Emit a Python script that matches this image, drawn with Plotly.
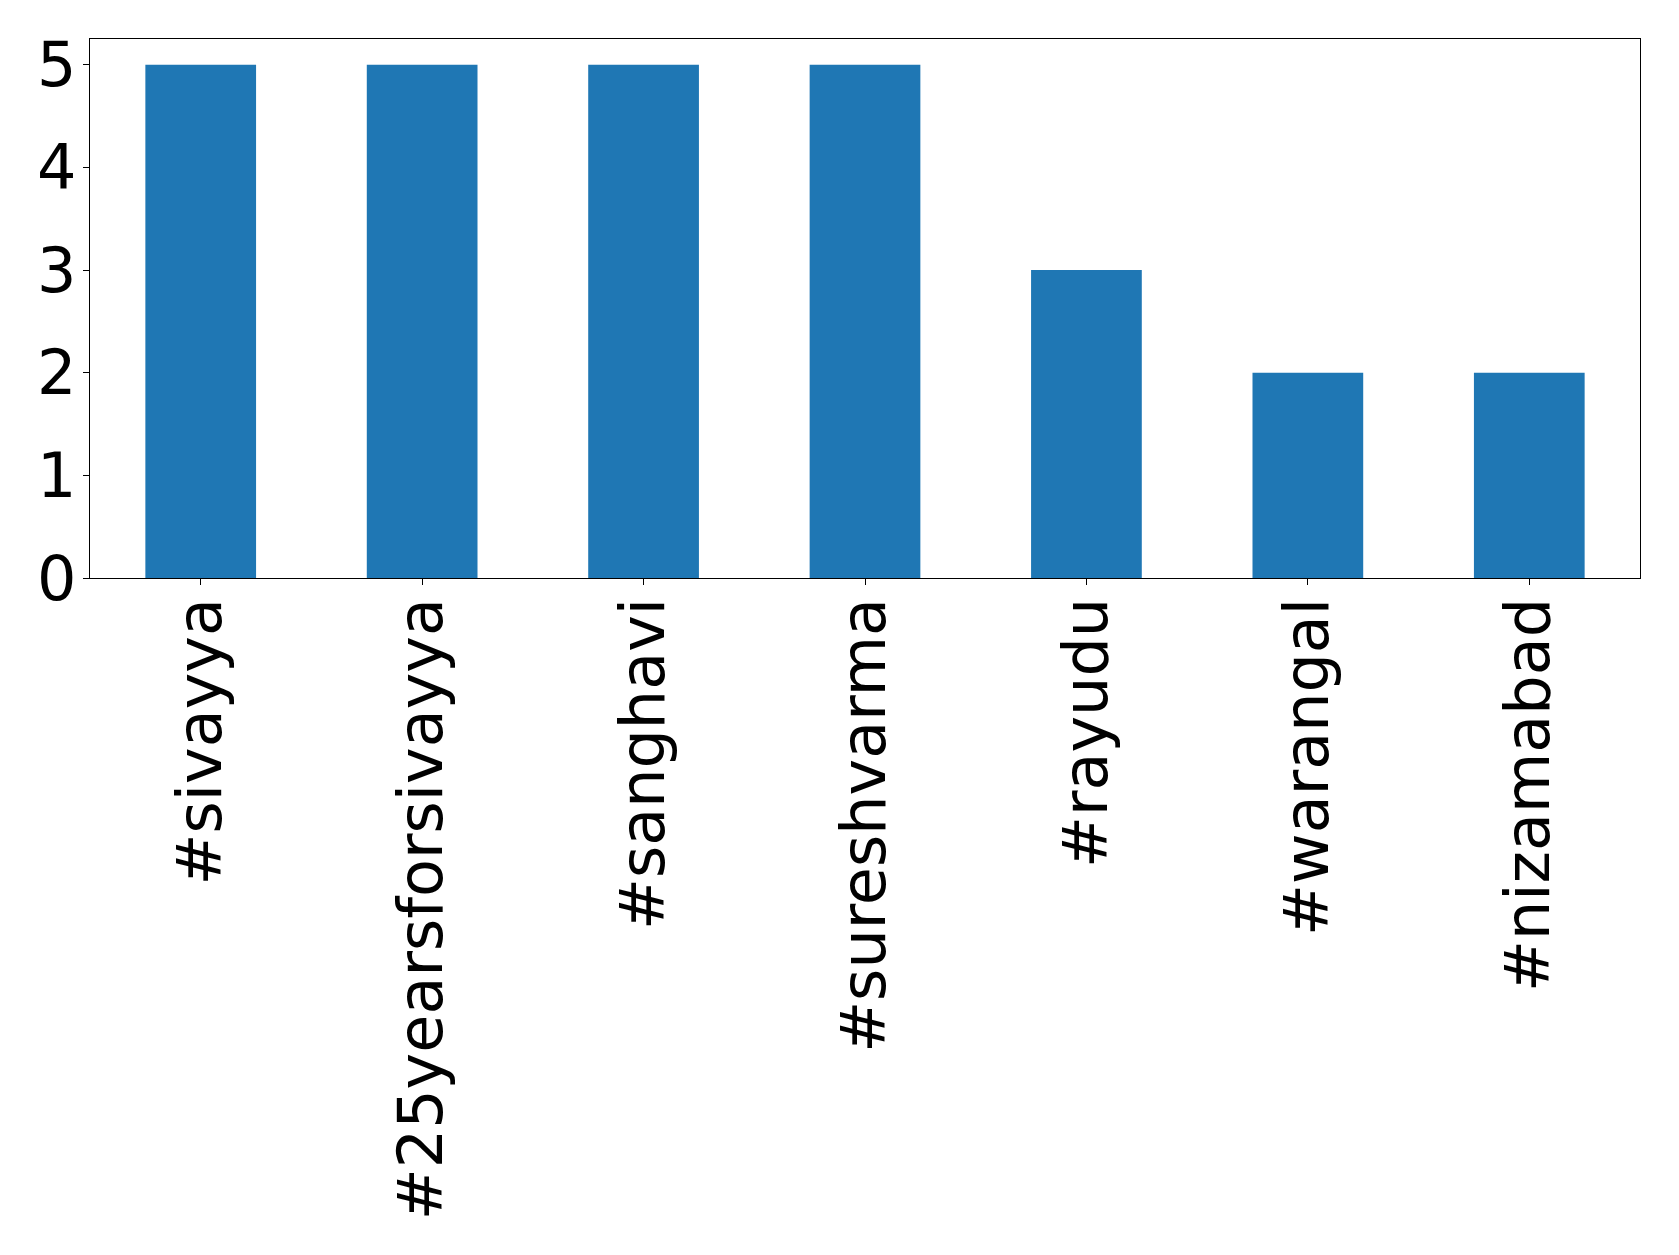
import plotly.graph_objects as go

categories = ["#sivayya", "#25yearsforsivayya", "#sanghavi", "#sureshvarma", "#rayudu", "#warangal", "#nizamabad"]
counts = [5, 5, 5, 5, 3, 2, 2]
y_ticks = [0, 1, 2, 3, 4, 5]

fig = go.Figure(go.Bar(x=categories, y=counts, marker_color="#1f77b4", marker_line_width=0, width=0.5))

axis_common = dict(showline=True, linecolor="black", linewidth=1.3, mirror=True,
                   ticks="outside", ticklen=6, tickcolor="black", tickwidth=1.3,
                   showgrid=False, zeroline=False,
                   tickfont=dict(family="DejaVu Sans", size=62, color="black"))

fig.update_layout(
    width=1679, height=1255, autosize=False,
    margin=dict(l=82, r=47, t=31, b=685),
    plot_bgcolor="white", paper_bgcolor="white",
    showlegend=False,
    bargap=0.5,
)
fig.update_xaxes(range=[-0.5, 6.5], tickangle=-90, ticklabelstandoff=-12, **axis_common)
fig.update_yaxes(range=[0, 5.25], tickvals=y_ticks, ticklabelstandoff=-6, **axis_common)

fig.write_html("out.html")
